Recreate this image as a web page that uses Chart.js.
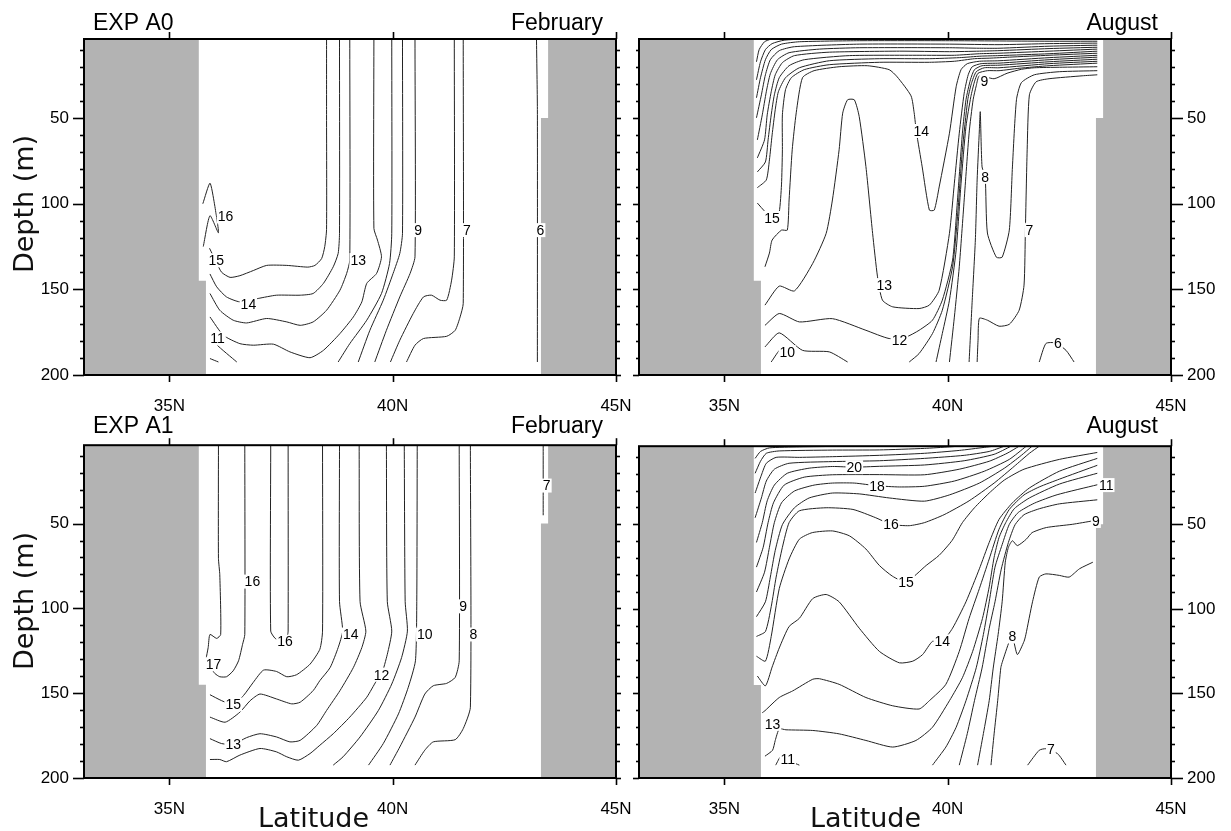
<!DOCTYPE html>
<html>
<head>
<meta charset="utf-8">
<script src="https://cdn.jsdelivr.net/npm/chart.js@4.4.1/dist/chart.umd.min.js"></script>
<style>
  body { margin: 0; background: #fff; width: 1231px; height: 831px; position: relative; overflow: hidden; }
  canvas { position: absolute; }
</style>
</head>
<body>
<canvas id="tl" width="661" height="420" style="left:0;top:0"></canvas>
<canvas id="tr" width="631" height="420" style="left:600px;top:0"></canvas>
<canvas id="bl" width="661" height="411" style="left:0;top:420px"></canvas>
<canvas id="br" width="631" height="411" style="left:600px;top:420px"></canvas>
<canvas id="txt" width="1231" height="831" style="left:0;top:0;z-index:5;pointer-events:none"></canvas>
<script>
// axes
const LAT_TICKS = [35, 40, 45];
const DEPTH_TICKS = [50, 100, 150, 200];
const DEPTH_MINOR = [10, 20, 30, 40, 60, 70, 80, 90, 110, 120, 130, 140, 160, 170, 180, 190];

// land mask (lat, depth)
const LAND_WEST = [[33.09, 3.8], [35.66, 3.8], [35.66, 145], [35.82, 145], [35.82, 200], [33.09, 200], [33.09, 3.8]];
const LAND_EAST = [[43.48, 3.8], [45, 3.8], [45, 200], [43.32, 200], [43.32, 50], [43.48, 50], [43.48, 3.8]];

// EXP A0, February: isotherms [lat, depth]
const A0_FEB = [
  [[35.75,100],[35.91,88],[36.01,100],[36.10,117],[35.91,107],[35.76,125]],
  [[35.90,126],[36.05,134],[36.17,140],[36.36,143],[36.58,142],[36.88,139],[37.18,136],[37.63,136],[38.10,137],[38.26,136],[38.41,132],[38.48,125],[38.52,115],[38.52,45],[38.52,3.8]],
  [[35.91,141],[36.06,148.5],[36.28,154.4],[36.58,157.3],[36.99,155.3],[37.40,153.4],[37.93,153.4],[38.22,152.4],[38.45,146.5],[38.67,136.8],[38.78,129],[38.81,117.3],[38.81,3.8]],
  [[35.91,152.4],[36.13,162.2],[36.43,168],[36.73,169.6],[37.18,167],[37.63,169],[37.93,171],[38.22,169],[38.52,162.2],[38.82,150.5],[38.97,140.7],[39.04,132.9],[39.04,3.8]],
  [[35.91,166.1],[36.21,176.8],[36.58,181.7],[36.88,182.6],[37.33,182],[37.70,186.5],[38.15,189.9],[38.45,185.6],[38.82,175.8],[39.12,166.1],[39.31,157.3],[39.42,146.5],[39.64,140.7],[39.75,131],[39.66,121.2],[39.58,114.4],[39.58,3.8]],
  [[35.95,177],[36.05,182],[36.51,192.4]],
  [[38.78,192.4],[39.04,181.7],[39.42,168],[39.75,152.4],[39.93,134.9],[39.98,117.3],[39.98,3.8]],
  [[35.91,190.4],[36.10,192.4]],
  [[39.23,192.4],[39.49,173.9],[39.79,156.3],[40.01,140.7],[40.16,129],[40.22,117.3],[40.22,3.8]],
  [[39.60,192.4],[39.86,173.9],[40.16,154.4],[40.39,140.7],[40.50,131],[40.50,3.8]],
  [[39.95,192.4],[40.16,179.7],[40.46,164.1],[40.69,154.4],[40.87,153.4],[41.06,156.3],[41.21,156.3],[41.32,144.6],[41.38,131],[41.38,3.8]],
  [[40.31,192.4],[40.50,182.6],[40.69,178.7],[41.21,177.4],[41.40,173.9],[41.51,166.1],[41.58,158.3],[41.58,3.8]],
  [[43.22,3.8],[43.24,45],[43.24,192.4]]
];
const A0_FEB_LBL = [[36.26,107.5,'16'],[36.05,133,'15'],[36.77,158.7,'14'],[39.23,132.9,'13'],[36.08,178.7,'11'],[40.57,115.4,'9'],[41.66,115.4,'7'],[43.31,115.4,'6']];

// EXP A0, August
const A0_AUG = [
  [[35.72,17.1],[35.78,10.0],[35.90,5.4],[36.05,3.8]],
  [[35.72,27.6],[35.81,17.1],[35.92,10.0],[36.07,6.5],[36.34,4.5],[36.79,3.8]],
  [[35.72,38.1],[35.81,26.4],[35.92,15.9],[36.05,10.0],[36.28,6.8],[36.68,5.4],[38.02,4.8],[40.04,4.8],[42.27,5.1],[43.35,5.1]],
  [[35.72,49.8],[35.83,36.4],[35.92,24.7],[36.03,15.9],[36.23,10.6],[36.57,8.3],[38.02,6.8],[40.04,6.8],[41.15,7.1],[42.27,6.5],[43.35,6.2]],
  [[35.74,62.7],[35.85,48.1],[35.94,34.6],[36.03,24.1],[36.19,15.9],[36.45,11.8],[37.13,9.7],[38.02,8.9],[40.04,8.9],[40.71,9.2],[41.15,9.2],[42.27,8.0],[43.35,7.4]],
  [[35.74,73.2],[35.90,62.7],[35.96,48.1],[36.05,34.6],[36.14,24.7],[36.30,17.6],[36.57,13.5],[37.35,11.5],[38.92,10.9],[40.04,11.2],[40.71,10.9],[41.15,10.6],[42.27,9.4],[43.35,8.6]],
  [[35.74,81.4],[35.92,75.6],[35.98,62.7],[36.05,48.1],[36.12,36.4],[36.23,26.4],[36.45,19.4],[36.79,15.9],[37.80,13.5],[39.36,13.3],[40.15,13.3],[40.71,12.4],[41.15,12.1],[42.27,10.9],[43.35,9.7]],
  [[35.74,90.6],[35.94,86.1],[36.01,74.4],[36.07,59.8],[36.14,45.1],[36.21,34.6],[36.37,26.4],[36.68,20.6],[37.35,16.5],[38.47,15.3],[39.59,15.3],[40.26,14.7],[40.75,13.8],[41.15,13.5],[42.27,12.4],[43.35,10.9]],
  [[35.74,99.6],[35.92,104.8],[36.14,108.9],[36.23,104.8],[36.28,89.0],[36.30,68.5],[36.30,48.1],[36.37,33.4],[36.50,26.4],[36.79,21.7],[37.35,18.8],[38.47,17.4],[39.59,17.4],[40.15,16.8],[40.60,15.3],[40.93,15.0],[41.38,14.4],[42.27,13.3],[43.35,12.1]],
  [[35.91,136.8],[36.01,128.8],[36.07,121.2],[36.28,115.4],[36.41,115.4],[36.45,97.8],[36.52,68.5],[36.61,46.9],[36.75,26.4],[37.01,22.3],[37.57,20.0],[38.20,19.4],[38.69,21.7],[38.87,25.9],[39.18,37.0],[39.25,46.9],[39.30,58.0],[39.43,78.5],[39.59,103.7],[39.70,103.7],[39.81,90.2],[40.04,58.8],[40.19,31.7],[40.30,21.7],[40.44,18.2],[40.71,16.8],[41.15,16.5],[42.27,14.7],[43.35,13.3]],
  [[35.91,159.2],[36.23,148.1],[36.57,150.9],[36.98,134.8],[37.28,117.3],[37.42,97.8],[37.57,68.5],[37.65,47.1],[37.76,39.3],[37.91,39.3],[38.02,49.1],[38.17,78.3],[38.32,117.3],[38.43,142.7],[38.54,156.3],[38.77,160.2],[39.36,161.2],[39.59,159.2],[39.81,150.5],[40.04,117.3],[40.15,88.0],[40.26,58.8],[40.37,35.4],[40.46,24.7],[40.55,20.0],[40.75,18.2],[41.15,17.9],[42.27,15.9],[43.35,14.4]],
  [[35.91,171.0],[36.23,164.1],[36.68,169.0],[37.42,167.1],[38.17,173.9],[38.69,178.7],[39.07,177.8],[39.36,173.9],[39.66,168.0],[39.88,156.3],[40.11,132.9],[40.22,97.8],[40.33,58.8],[40.41,39.3],[40.51,27.6],[40.60,21.7],[40.77,19.4],[41.15,19.1],[42.27,17.1],[43.35,15.6]],
  [[35.91,183.6],[36.23,175.4],[36.75,185.6],[37.35,186.5],[37.76,192.4]],
  [[39.14,192.4],[39.36,187.5],[39.66,175.8],[39.88,162.2],[40.11,136.8],[40.22,107.6],[40.33,68.5],[40.45,39.3],[40.53,29.9],[40.64,22.9],[40.82,20.6],[41.15,20.6],[42.27,18.2],[43.35,16.8]],
  [[36.05,192.4],[36.27,184.6],[36.41,186.7]],
  [[39.74,192.4],[39.88,175.8],[40.04,156.3],[40.19,127.1],[40.30,88.0],[40.41,54.9],[40.52,37.4],[40.60,28.8],[40.68,23.8],[40.89,22.3],[41.15,22.3],[41.60,20.9],[42.27,19.4],[43.35,17.9]],
  [[40.04,192.4],[40.15,166.2],[40.26,136.8],[40.37,97.8],[40.48,58.8],[40.57,39.3],[40.64,31.1],[40.71,25.3],[41.04,27.0],[41.33,23.8],[41.65,21.5],[41.94,20.6],[42.50,20.3],[43.35,20.0]],
  [[40.48,192.4],[40.55,156.3],[40.62,121.2],[40.66,86.1],[40.71,56.8],[40.73,46.3],[40.77,78.5],[40.84,84.3],[40.89,117.1],[41.09,131.2],[41.22,131.2],[41.38,115.4],[41.45,78.5],[41.54,39.3],[41.65,29.3],[41.94,24.7],[42.50,22.9],[43.35,22.3]],
  [[40.66,192.4],[40.68,179.7],[40.71,166.9],[40.89,168.0],[41.15,171.5],[41.38,170.4],[41.60,162.2],[41.71,147.5],[41.74,115.4],[41.78,68.5],[41.83,36.4],[41.98,28.8],[42.27,27.0],[43.01,25.3],[43.35,24.7]],
  [[42.05,192.4],[42.20,181.6],[42.42,181.3],[42.65,185.6],[42.83,192.4]]
];
const A0_AUG_LBL = [[36.07,108.3,'15'],[39.41,57.5,'14'],[38.58,147.5,'13'],[38.92,179.7,'12'],[36.41,186.7,'10'],[40.82,28.6,'9'],[40.84,84.3,'8'],[41.83,115.4,'7'],[42.47,181.6,'6']];

// EXP A1, February
const A1_FEB = [
  [[36.10,3.8],[36.10,70.5],[36.13,80.2],[36.15,115.4],[36.06,117.7],[35.91,115.4],[35.87,123.1],[35.82,130]],
  [[36.69,3.8],[36.69,115.4],[36.64,121.2],[36.55,130.9],[36.43,136.8],[36.28,140.3],[36.13,140.3],[36.02,138.4],[35.95,135.8]],
  [[37.27,3.8],[37.27,113.4],[37.37,117.7],[37.52,119.6],[37.64,116.3],[37.66,113.4],[37.66,3.8]],
  [[35.91,150.9],[36.17,154.4],[36.43,156.7],[36.66,151.4],[36.88,143.6],[37.11,136.4],[37.40,137.2],[37.63,140.3],[37.85,139.1],[38.15,132.9],[38.37,124.1],[38.43,113.4],[38.43,3.8]],
  [[35.91,164.1],[36.25,167.1],[36.58,161.2],[36.81,154.4],[37.03,150.5],[37.40,153.4],[37.74,156.3],[37.93,155.3],[38.22,148.5],[38.37,142.6],[38.60,134.9],[38.78,123.1],[38.88,113.4],[38.81,95.9],[38.81,3.8]],
  [[35.91,176.8],[36.17,179.7],[36.43,180.1],[36.73,176.2],[37.03,173.9],[37.40,175.8],[37.70,178.7],[37.93,177.8],[38.30,169],[38.52,160.2],[38.82,148.5],[39.12,134.9],[39.31,123.1],[39.40,113.4],[39.27,95.9],[39.25,3.8]],
  [[35.91,189.1],[36.13,189.1],[36.28,190.4],[36.58,186.5],[37.03,182.6],[37.40,184.6],[37.63,187.5],[37.89,189.5],[38.15,185.6],[38.37,180.7],[38.67,173.9],[39.04,164.1],[39.42,152.4],[39.64,142.6],[39.75,139.1],[39.88,127.1],[39.98,113.4],[39.88,95.9],[39.86,3.8]],
  [[40.26,3.8],[40.28,95.9],[40.33,113.4],[40.20,129],[39.98,144.6],[39.68,160.2],[39.27,175.8],[38.89,187.5],[38.67,192.4]],
  [[40.55,3.8],[40.54,95.9],[40.51,130.9],[40.35,146.5],[40.13,162.2],[39.79,179.7],[39.46,192.4]],
  [[41.49,3.8],[41.49,130.9],[41.40,140.7],[41.21,144.2],[40.91,145.6],[40.72,150.5],[40.50,164.1],[40.16,181.7],[39.94,192.4]],
  [[41.74,3.8],[41.74,158.3],[41.58,170.9],[41.40,177.4],[40.91,178.7],[40.72,183.6],[40.50,192.4]],
  [[43.37,3.8],[43.37,45.1]]
];
const A1_FEB_LBL = [[36.86,84.2,'16'],[37.59,119.6,'16'],[35.99,132.9,'17'],[36.43,156.7,'15'],[39.06,115.4,'14'],[36.43,180.1,'13'],[39.75,139.1,'12'],[40.72,115.4,'10'],[41.58,98.8,'9'],[41.81,115.4,'8'],[43.45,27.6,'7']];

// EXP A1, August
const A1_AUG = [
  [[35.69,11.0],[35.81,6.9],[36.01,4.8],[36.68,4.2],[37.57,3.9]],
  [[35.69,19.8],[35.81,12.7],[35.94,8.0],[36.23,6.6],[37.42,6.1],[38.47,6.0],[39.48,5.1],[40.04,4.2],[40.26,3.8]],
  [[35.69,31.5],[35.83,20.9],[35.94,13.9],[36.16,10.4],[36.68,10.4],[37.42,10.0],[38.47,9.2],[39.48,8.0],[40.26,6.3],[40.82,4.5],[41.04,3.8]],
  [[35.69,46.1],[35.83,34.4],[35.94,24.4],[36.12,17.4],[36.45,13.9],[37.42,12.9],[38.47,12.4],[39.48,11.0],[40.37,9.2],[40.93,6.9],[41.27,3.8]],
  [[35.72,60.7],[35.85,49.0],[35.96,36.1],[36.12,26.8],[36.41,19.8],[36.90,16.8],[37.42,15.8],[37.91,16.2],[38.47,15.7],[39.48,14.9],[40.37,12.4],[41.04,8.6],[41.42,3.8]],
  [[35.72,75.3],[35.87,63.6],[35.98,49.0],[36.10,37.3],[36.34,26.8],[36.79,22.1],[37.42,20.7],[38.47,20.6],[39.48,20.7],[40.26,17.4],[40.93,12.7],[41.33,8.0],[41.60,3.8]],
  [[35.72,90.0],[35.90,78.3],[36.01,63.6],[36.12,49.0],[36.28,37.3],[36.57,30.3],[37.01,26.8],[37.42,25.6],[37.91,25.6],[38.42,27.2],[38.92,27.9],[39.48,27.5],[40.15,24.4],[40.82,18.6],[41.38,11.6],[41.76,3.8]],
  [[35.72,104.6],[35.92,95.8],[36.03,81.2],[36.14,65.4],[36.30,50.2],[36.57,40.2],[36.90,34.4],[37.42,31.5],[38.02,32.0],[38.69,34.4],[39.48,36.3],[40.04,32.6],[40.71,25.6],[41.27,16.8],[41.65,9.2],[41.89,3.8]],
  [[35.72,116.3],[35.92,113.4],[36.05,98.7],[36.16,81.2],[36.30,63.6],[36.45,49.0],[36.68,42.0],[37.28,40.2],[37.88,41.2],[38.39,46.1],[38.73,50.0],[39.14,50.8],[39.48,49.0],[39.92,44.3],[40.48,36.1],[41.04,25.6],[41.49,15.7],[41.83,8.0],[42.05,3.8]],
  [[35.72,128.0],[35.92,130.9],[36.05,116.3],[36.23,88.0],[36.45,70.5],[36.68,58.8],[36.97,54.9],[37.42,53.9],[37.80,56.8],[38.17,64.6],[38.47,74.3],[38.76,80.6],[39.07,84.1],[39.52,74.3],[39.81,68.3],[40.10,59.5],[40.33,49.0],[40.60,40.2],[40.93,31.5],[41.27,23.8],[41.71,17.4],[42.50,11.6],[43.35,7.5]],
  [[35.74,139.7],[35.92,145.5],[36.07,134.4],[36.23,123.1],[36.45,110.4],[36.68,105.6],[36.98,93.9],[37.28,91.5],[37.57,95.8],[38.02,111.4],[38.47,125.1],[38.92,131.9],[39.22,130.9],[39.44,127.0],[39.66,119.2],[39.88,119.2],[40.11,111.4],[40.41,95.8],[40.71,76.3],[40.93,60.7],[41.15,47.1],[41.45,37.3],[41.83,28.5],[42.50,18.6],[43.35,11.0]],
  [[35.85,161.4],[35.91,160.2],[36.23,152.4],[36.53,148.5],[36.98,141.6],[37.13,141.3],[37.57,144.6],[38.17,152.4],[38.77,157.3],[39.36,159.2],[39.59,154.3],[39.96,144.6],[40.26,125.1],[40.48,105.6],[40.71,88.0],[40.93,70.5],[41.15,52.9],[41.38,41.2],[41.71,32.6],[42.05,27.9],[42.50,23.3],[43.35,15.1]],
  [[35.91,187.1],[36.08,183.6],[36.14,177.8],[36.23,171.0],[36.38,171.5],[36.98,171.9],[37.57,173.9],[38.17,177.8],[38.77,181.7],[39.29,177.8],[39.66,170.0],[40.04,154.3],[40.33,140.7],[40.56,125.1],[40.78,105.6],[40.93,87.0],[41.04,69.5],[41.15,57.8],[41.30,49.0],[41.49,40.8],[41.83,34.4],[42.50,26.2],[43.35,19.8]],
  [[36.15,192.4],[36.27,187.1],[36.42,189.1],[36.60,191.5],[36.68,192.4]],
  [[39.66,192.4],[39.96,181.7],[40.19,170.0],[40.41,154.3],[40.64,134.8],[40.80,115.1],[40.93,95.8],[41.06,75.3],[41.22,62.0],[41.38,50.0],[41.58,43.0],[41.94,37.5],[42.45,32.5],[43.35,26.6]],
  [[40.26,192.4],[40.44,173.7],[40.60,154.3],[40.77,135.0],[40.93,111.6],[41.06,95.8],[41.20,76.5],[41.36,60.7],[41.51,50.2],[41.71,44.3],[42.05,40.8],[42.50,37.9],[43.35,35.5]],
  [[40.67,192.4],[40.80,173.7],[40.93,154.3],[41.02,135.0],[41.13,115.1],[41.22,95.8],[41.29,72.4],[41.36,63.6],[41.45,59.7],[41.56,62.6],[41.76,58.8],[41.89,54.9],[42.21,51.9],[42.79,50.0],[43.24,48.0]],
  [[40.97,192.4],[41.04,173.9],[41.12,154.3],[41.19,134.8],[41.23,130.9],[41.38,119.2],[41.45,116.3],[41.56,127.0],[41.71,119.2],[41.75,115.3],[41.90,95.8],[42.05,81.2],[42.20,79.3],[42.50,80.2],[42.72,81.2],[42.95,76.3],[43.25,72.4]],
  [[41.79,192.4],[42.05,183.6],[42.20,182.7],[42.46,185.6],[42.65,192.4]]
];
const A1_AUG_LBL = [[37.91,16.2,'20'],[38.42,27.2,'18'],[38.73,50.0,'16'],[39.07,84.1,'15'],[39.88,119.2,'14'],[36.08,168.0,'13'],[36.42,189.1,'11'],[43.55,26.8,'11'],[43.32,48.0,'9'],[41.45,116.3,'8'],[42.31,183.2,'7']];

Chart.defaults.font.family = '"Liberation Sans", Arial, sans-serif';

// frame, tick marks and contour labels drawn through the chart's own scales
const panelDeco = {
  id: 'panelDeco',
  afterDatasetsDraw(chart, args, o) {
    const {ctx, scales: {x, y}} = chart;
    ctx.save();
    ctx.font = '14px "Liberation Sans", Arial, sans-serif';
    ctx.textAlign = 'center';
    ctx.textBaseline = 'middle';
    o.labels.forEach(([lat, dep, t]) => {
      const px = x.getPixelForValue(lat), py = y.getPixelForValue(dep);
      const w = ctx.measureText(t).width;
      ctx.fillStyle = '#fff';
      ctx.fillRect(px - w / 2 - 1, py - 7, w + 2, 14);
      ctx.fillStyle = '#000';
      ctx.fillText(t, px, py + 1);
    });
    ctx.restore();
  },
  afterDraw(chart, args, o) {
    const {ctx, chartArea: a, scales: {x, y}} = chart;
    ctx.save();
    ctx.strokeStyle = '#000';
    ctx.lineWidth = 2;
    ctx.strokeRect(a.left, a.top, a.right - a.left, a.bottom - a.top);
    const seg = (x1, y1, x2, y2) => { ctx.beginPath(); ctx.moveTo(x1, y1); ctx.lineTo(x2, y2); ctx.stroke(); };
    ctx.lineWidth = 1.6;
    const ticks = (vals, lenL, lenR) => vals.forEach(v => {
      const py = Math.round(y.getPixelForValue(v)) + 0.5;
      seg(a.left, py, a.left - lenL, py);
      seg(a.right, py, a.right + lenR, py);
    });
    ticks(DEPTH_TICKS, o.yMajor[0], o.yMajor[1]);
    ticks(DEPTH_MINOR, o.yMinor[0], o.yMinor[1]);
    LAT_TICKS.forEach(v => {
      const px = Math.round(x.getPixelForValue(v)) + 0.5;
      seg(px, a.bottom, px, a.bottom + 7);
      seg(px, a.top, px, a.top - 7);
    });
    ctx.restore();
  }
};

function makePanel(id, lines, labels, side, areaTop, areaBottom, canvasH) {
  const datasets = lines.map(pts => ({
    data: pts, borderColor: '#222', borderWidth: 1, pointRadius: 0,
    tension: 0.2, fill: false, order: 0
  }));
  [LAND_WEST, LAND_EAST].forEach(poly => datasets.push({
    data: poly, borderColor: 'rgba(0,0,0,0)', borderWidth: 1, backgroundColor: '#b3b3b3',
    pointRadius: 0, tension: 0, fill: 'shape', order: 5
  }));
  const left = side === 'left';
  return new Chart(document.getElementById(id), {
    type: 'line',
    data: {datasets},
    plugins: [panelDeco],
    options: {
      responsive: false, animation: false, devicePixelRatio: 1, events: [],
      layout: {padding: {left: left ? 0 : 39, right: left ? 45 : 0, top: areaTop, bottom: 0}},
      plugins: {
        legend: {display: false}, tooltip: {enabled: false},
        panelDeco: {labels, yMajor: left ? [11, 5] : [6, 12], yMinor: left ? [4, 4] : [3, 4]}
      },
      scales: {
        x: {
          type: 'linear', position: 'bottom', min: 33.09, max: 45,
          grid: {display: false, drawTicks: false}, border: {display: false},
          ticks: {padding: 21, color: '#000', font: {size: 17}, maxRotation: 0, autoSkip: false, callback: v => v + 'N'},
          afterBuildTicks: s => { s.ticks = LAT_TICKS.map(v => ({value: v})); },
          afterFit: s => { s.height = canvasH - areaBottom; }
        },
        y: {
          type: 'linear', position: side, reverse: true, min: 3.8, max: 200,
          grid: {display: false, drawTicks: false}, border: {display: false},
          ticks: {padding: left ? 15 : 16, color: '#000', font: {size: 17}, autoSkip: false},
          afterBuildTicks: s => { s.ticks = DEPTH_TICKS.map(v => ({value: v})); },
          afterFit: s => { s.width = left ? 84 : 60; }
        }
      }
    }
  });
}

makePanel('tl', A0_FEB, A0_FEB_LBL, 'left', 39, 375, 420);
makePanel('tr', A0_AUG, A0_AUG_LBL, 'right', 39, 375, 420);
makePanel('bl', A1_FEB, A1_FEB_LBL, 'left', 23, 358, 411);
makePanel('br', A1_AUG, A1_AUG_LBL, 'right', 23, 358, 411);

// titles and axis names
const c = document.getElementById('txt').getContext('2d');
c.fillStyle = '#000';
c.font = '23px "Liberation Sans", Arial, sans-serif';
c.textBaseline = 'alphabetic';
c.textAlign = 'left';
c.fillText('EXP A0', 93, 30);
c.fillText('EXP A1', 93, 433);
c.textAlign = 'right';
c.fillText('February', 603, 30);
c.fillText('August', 1158, 30);
c.fillText('February', 603, 433);
c.fillText('August', 1158, 433);
c.fillStyle = '#111';
c.font = '27px "DejaVu Sans", sans-serif';
c.textAlign = 'left';
c.fillText('Latitude', 258, 827);
c.fillText('Latitude', 810, 827);
c.textAlign = 'center';
[204, 601].forEach(cy => {
  c.save();
  c.translate(33, cy);
  c.rotate(-Math.PI / 2);
  c.fillText('Depth (m)', 0, 0);
  c.restore();
});
</script>
</body>
</html>
